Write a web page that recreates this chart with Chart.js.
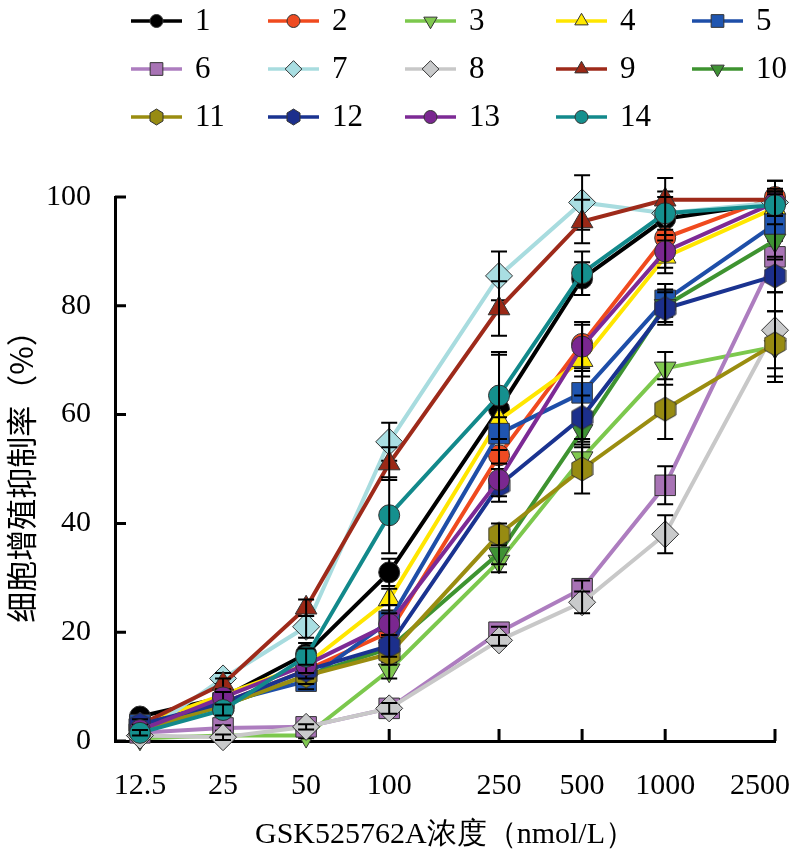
<!DOCTYPE html>
<html>
<head>
<meta charset="utf-8">
<script src="https://cdn.jsdelivr.net/npm/chart.js@4.4.1/dist/chart.umd.min.js"></script>
<style>
  html, body { margin: 0; padding: 0; background: #fff; }
  #wrap { width: 799px; height: 860px; }
</style>
</head>
<body>
<div id="wrap"><canvas id="chart" width="799" height="860"></canvas></div>
<script>
// doses (nmol/L) and tick labels
const doses = [12.5, 25, 50, 100, 250, 500, 1000, 2500];
const doseLabels = ['12.5', '25', '50', '100', '250', '500', '1000', '2500'];
const yTicks = [0, 20, 40, 60, 80, 100];
const seriesNames = ['1', '2', '3', '4', '5', '6', '7', '8', '9', '10', '11', '12', '13', '14'];

// inhibition rate (%) per series
const s1 = [4.5, 8, 16, 31, 61, 85, 96, 99];
const s2 = [3, 7, 13, 20, 52.5, 73, 92.5, 100];
const s3 = [0.5, 1, 1, 13, 33, 52, 68.5, 72.5];
const s4 = [3, 8.5, 14, 26, 59, 70, 89, 98];
const s5 = [3, 7, 11, 22, 56.5, 64, 81, 95];
const s6 = [1.5, 2.4, 2.6, 6, 20, 28, 47, 89];
const s7 = [1, 11.5, 21, 55, 85.5, 99, 97, 99];
const s8 = [1, 0.7, 2.6, 6, 18.5, 25.5, 38, 75.5];
const s9 = [3, 10.5, 24.5, 51, 79.5, 95.5, 99.5, 99.5];
const s10 = [2, 6.5, 12, 17, 34.5, 57, 80, 92];
const s11 = [2, 6.5, 12, 16, 38, 50, 61, 73];
const s12 = [3, 7, 13, 17.5, 47, 59.5, 79.5, 85.5];
const s13 = [2, 8, 14, 21.5, 48, 72.5, 90, 99];
const s14 = [1.5, 5.7, 15.5, 41.5, 63.5, 86, 97, 98.5];

// error bar half-widths (%)
const e1 = [1, 1.5, 2, 2.5, 10, 3, 3, 4];
const e2 = [1, 1, 1.5, 2, 4, 4, 4, 3];
const e3 = [0.5, 0.5, 0.5, 1.5, 2, 3, 3, 6.5];
const e4 = [1, 1, 1.5, 2, 3, 3, 3, 3];
const e5 = [1, 1, 1.5, 3, 3, 4, 3, 3];
const e6 = [0.5, 0.5, 0.5, 1, 1, 1.5, 3.5, 3];
const e7 = [0.5, 1, 2, 3.5, 4.5, 5, 4, 2];
const e8 = [0.5, 0.5, 0.5, 1, 1, 2, 3.5, 7];
const e9 = [1, 1, 1.5, 3, 5, 4, 4, 2];
const e10 = [1, 1, 1.5, 2, 2, 3, 3, 3];
const e11 = [1, 1, 1.5, 2, 2, 4.5, 5.5, 6];
const e12 = [1, 1, 1.5, 2, 3, 4, 3, 3];
const e13 = [1, 1, 1.5, 2, 3, 4, 3, 2];
const e14 = [0.5, 1, 1.5, 7, 8, 4, 3, 2];

const values = [s1, s2, s3, s4, s5, s6, s7, s8, s9, s10, s11, s12, s13, s14];
const errors = [e1, e2, e3, e4, e5, e6, e7, e8, e9, e10, e11, e12, e13, e14];

const lineColors = ['#000000', '#f04a1e', '#7cc84d', '#ffe600', '#1e4ea8', '#ad7dbf', '#a8dcdf',
  '#c8c8c8', '#9e2a1a', '#3e9330', '#9a8d10', '#1a3390', '#7d2a95', '#12898b'];
const fillColors = ['#000000', '#ee4b22', '#80c850', '#ffe800', '#1f55b0', '#a873b5', '#a9dee2',
  '#c9cacb', '#9a2816', '#3f9234', '#978b12', '#1c2f8c', '#7a2790', '#15908e'];
const markers = ['circle', 'circle', 'down', 'triangle', 'rect', 'rect', 'rectRot',
  'rectRot', 'triangle', 'down', 'hex', 'hex', 'circle', 'circle'];

const serif = 'Liberation Serif, DejaVu Serif, serif';

function hexImage(fill, w, h) {
  const c = document.createElement('canvas');
  c.width = w + 2; c.height = h + 2;
  const g = c.getContext('2d');
  const cx = c.width / 2, cy = c.height / 2;
  g.beginPath();
  g.moveTo(cx, cy - h / 2);
  g.lineTo(cx + w / 2, cy - h / 4);
  g.lineTo(cx + w / 2, cy + h / 4);
  g.lineTo(cx, cy + h / 2);
  g.lineTo(cx - w / 2, cy + h / 4);
  g.lineTo(cx - w / 2, cy - h / 4);
  g.closePath();
  g.fillStyle = fill; g.fill();
  g.strokeStyle = '#333'; g.lineWidth = 1; g.stroke();
  return c;
}

function pointOpts(i, small) {
  const m = markers[i];
  const k = small ? 0.62 : 1;
  if (m === 'hex') return { style: small ? hexImage(fillColors[i], 13, 16) : hexImage(fillColors[i], 21, 24), rotation: 0, radius: 10 };
  if (m === 'circle') return { style: 'circle', rotation: 0, radius: 10.5 * k };
  if (m === 'down') return { style: 'triangle', rotation: 180, radius: 12.5 * k };
  if (m === 'triangle') return { style: 'triangle', rotation: 0, radius: 12.5 * k };
  if (m === 'rect') return { style: 'rect', rotation: 0, radius: 14.5 * k };
  return { style: 'rectRot', rotation: 0, radius: 13.5 * k };
}

const datasets = values.map((vals, i) => {
  const p = pointOpts(i, false);
  return {
    label: seriesNames[i],
    data: vals.map((v, j) => ({ x: doses[j], y: v })),
    err: errors[i],
    borderColor: lineColors[i],
    borderWidth: 4,
    pointStyle: p.style,
    pointRotation: p.rotation,
    pointRadius: p.radius,
    pointBackgroundColor: fillColors[i],
    pointBorderColor: '#333',
    pointBorderWidth: 1,
    tension: 0,
    clip: false,
    order: values.length - 1 - i
  };
});

// error bars drawn right after each series
const errorBars = {
  id: 'errorBars',
  afterDatasetDraw(chart, args) {
    const ds = chart.data.datasets[args.index];
    const xs = chart.scales.x, ys = chart.scales.y, ctx = chart.ctx;
    ctx.save();
    ctx.strokeStyle = '#000';
    ctx.lineWidth = 2;
    ds.data.forEach((p, j) => {
      const e = ds.err[j];
      const px = xs.getPixelForValue(p.x);
      const top = ys.getPixelForValue(p.y + e);
      const bot = ys.getPixelForValue(p.y - e);
      ctx.beginPath();
      ctx.moveTo(px, top); ctx.lineTo(px, bot);
      ctx.moveTo(px - 8, top); ctx.lineTo(px + 8, top);
      ctx.moveTo(px - 8, bot); ctx.lineTo(px + 8, bot);
      ctx.stroke();
    });
    ctx.restore();
  }
};

// tick marks pointing into the plot
const innerTicks = {
  id: 'innerTicks',
  beforeDatasetsDraw(chart) {
    const { ctx, chartArea } = chart;
    const xs = chart.scales.x, ys = chart.scales.y;
    ctx.save();
    ctx.strokeStyle = '#000';
    ctx.lineWidth = 3;
    ctx.beginPath();
    yTicks.forEach(v => {
      const py = ys.getPixelForValue(v);
      ctx.moveTo(chartArea.left, py); ctx.lineTo(chartArea.left + 11, py);
    });
    doses.forEach(v => {
      const px = xs.getPixelForValue(v);
      ctx.moveTo(px, chartArea.bottom); ctx.lineTo(px, chartArea.bottom - 12);
    });
    ctx.stroke();
    ctx.restore();
  }
};

// legend: 5 columns x 3 rows, line with marker then label
const legendCols = [131, 268, 405, 556, 692];
const legendRows = [21, 69, 117];
const gridLegend = {
  id: 'gridLegend',
  afterDraw(chart) {
    const ctx = chart.ctx;
    ctx.save();
    seriesNames.forEach((name, i) => {
      const x0 = legendCols[i % 5], y = legendRows[Math.floor(i / 5)];
      ctx.strokeStyle = lineColors[i];
      ctx.lineWidth = 3.5;
      ctx.beginPath(); ctx.moveTo(x0, y); ctx.lineTo(x0 + 51, y); ctx.stroke();
      const p = pointOpts(i, true);
      ctx.fillStyle = fillColors[i];
      ctx.strokeStyle = '#333';
      ctx.lineWidth = 1;
      Chart.helpers.drawPoint(ctx, { pointStyle: p.style, rotation: p.rotation, radius: p.radius, borderWidth: 1 }, x0 + 25.5, y);
      ctx.fillStyle = '#000';
      ctx.font = '31px ' + serif;
      ctx.textBaseline = 'middle';
      ctx.textAlign = 'left';
      ctx.fillText(name, x0 + 64, y + 1);
    });
    ctx.restore();
  }
};

function noPad(s) {
  s.paddingLeft = 0; s.paddingRight = 0; s.paddingTop = 0; s.paddingBottom = 0;
}

new Chart(document.getElementById('chart').getContext('2d'), {
  type: 'line',
  data: { datasets },
  options: {
    responsive: false,
    animation: false,
    devicePixelRatio: 1,
    layout: { padding: { top: 197, right: 24, left: 0, bottom: 0 } },
    plugins: { legend: { display: false }, tooltip: { enabled: false } },
    scales: {
      x: {
        type: 'logarithmic',
        min: 10.15,
        max: 2500,
        afterBuildTicks: s => { s.ticks = doses.map(v => ({ value: v })); },
        afterFit: s => { s.height = 119; noPad(s); },
        grid: { display: false },
        border: { display: true, color: '#000', width: 3 },
        ticks: {
          autoSkip: false,
          maxRotation: 0,
          padding: 19,
          color: '#000',
          font: { family: serif, size: 30 },
          callback: v => {
            const j = doses.findIndex(d => Math.abs(d - v) < 1e-6);
            if (j < 0) return '';
            // last label sits left of its tick so it stays inside the page
            return j === doses.length - 1 ? doseLabels[j] + '\u2003' : doseLabels[j];
          }
        },
        title: {
          display: true,
          text: 'GSK525762A浓度（nmol/L）',
          color: '#000',
          font: { family: serif, size: 30 },
          padding: { top: 0, bottom: 7 }
        }
      },
      y: {
        min: 0,
        max: 100,
        afterBuildTicks: s => { s.ticks = yTicks.map(v => ({ value: v })); },
        afterFit: s => { s.width = 115; noPad(s); },
        grid: { display: false },
        border: { display: true, color: '#000', width: 3 },
        ticks: {
          padding: 16,
          color: '#000',
          font: { family: serif, size: 30 }
        },
        title: {
          display: true,
          text: '细胞增殖抑制率（%）',
          color: '#000',
          font: { family: 'Noto Sans CJK SC, sans-serif', size: 31 },
          padding: { top: 3, bottom: 0 }
        }
      }
    }
  },
  plugins: [innerTicks, errorBars, gridLegend]
});
</script>
</body>
</html>
